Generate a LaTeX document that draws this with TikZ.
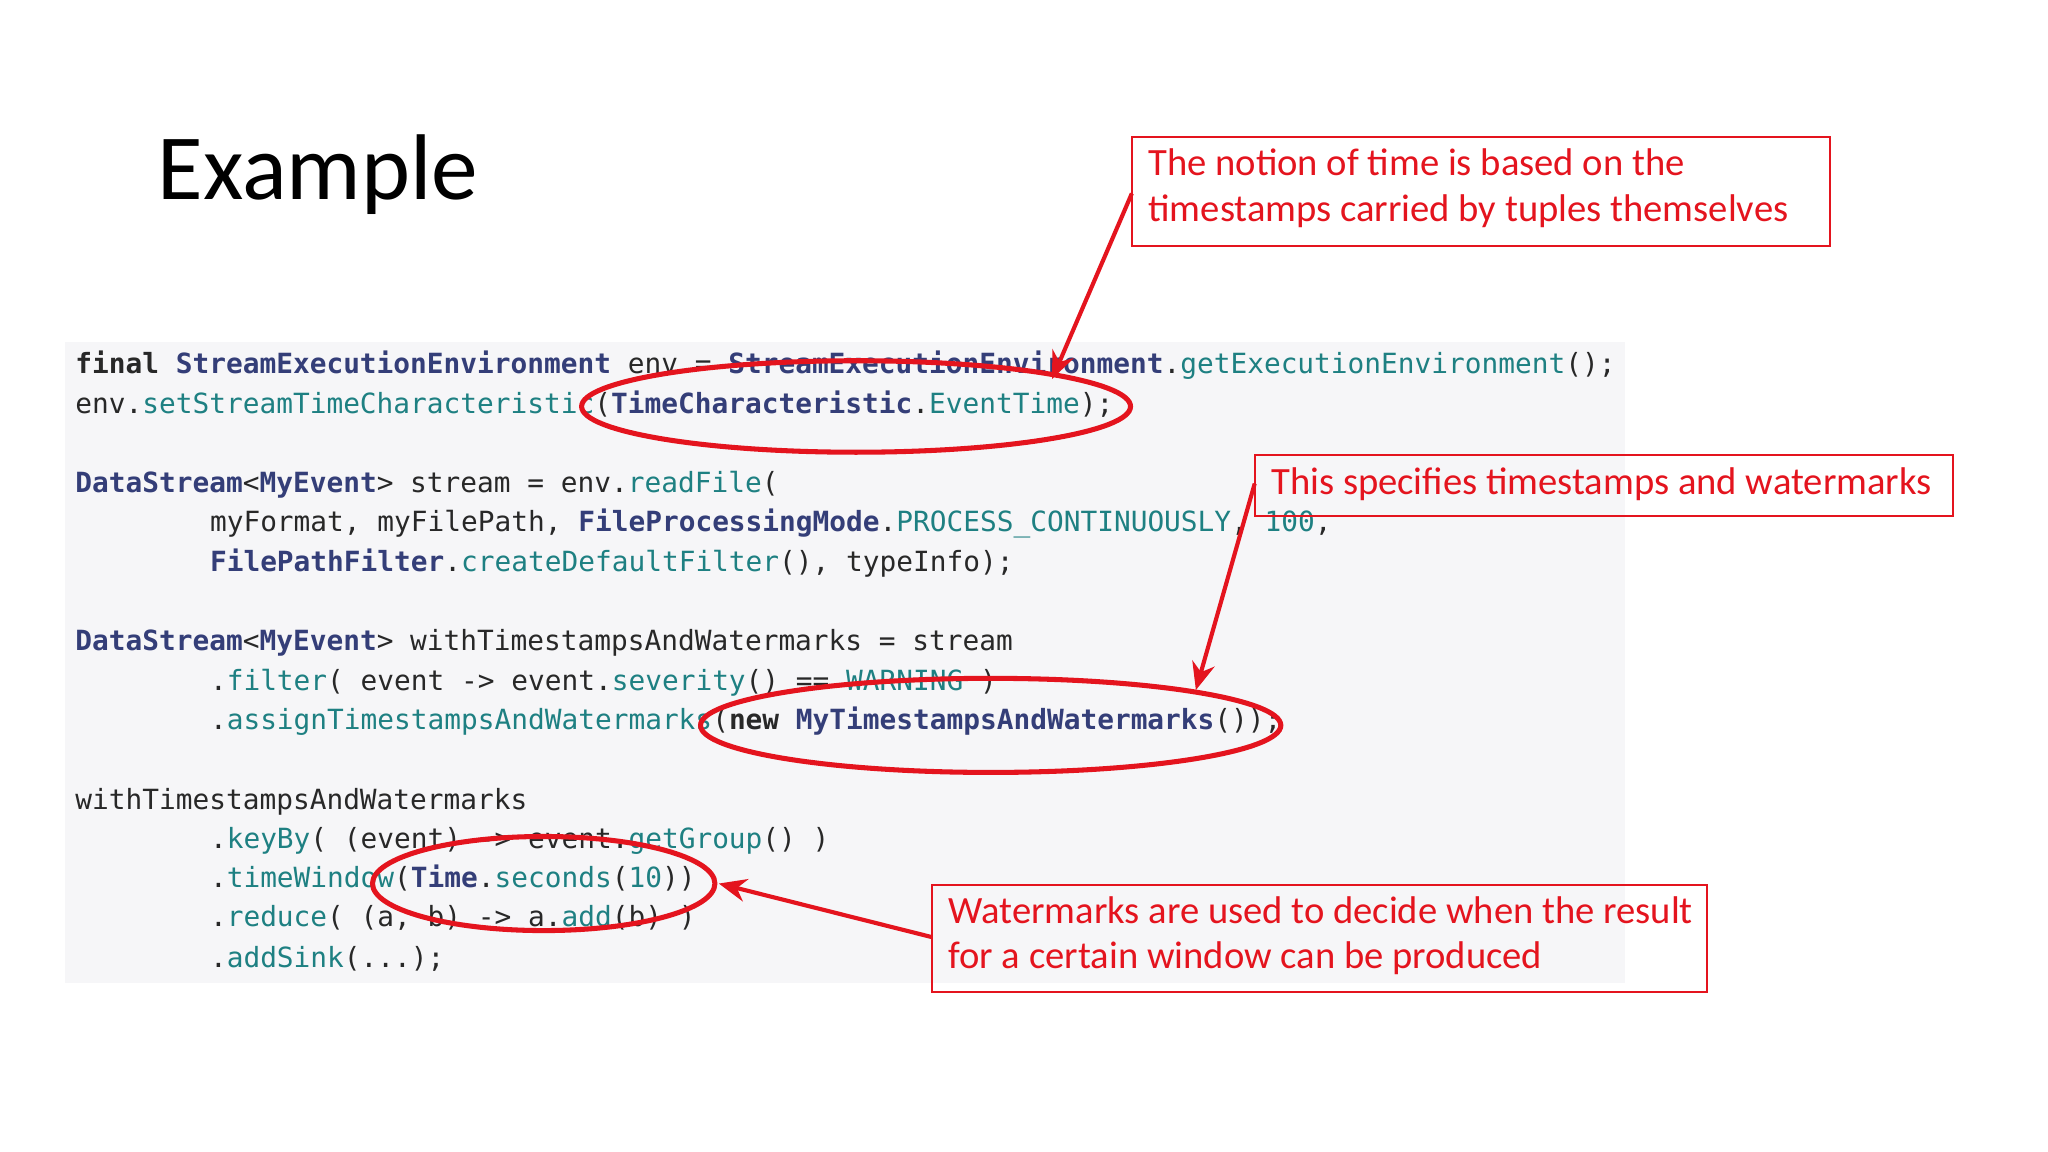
\documentclass[tikz,border=0pt]{standalone}
\usepackage{fontspec}
\setmainfont{Carlito}
\setmonofont{DejaVu Sans Mono}
\usetikzlibrary{arrows.meta}
\definecolor{kw}{RGB}{52,62,120}
\definecolor{mt}{RGB}{30,128,130}
\definecolor{pl}{RGB}{40,40,40}
\definecolor{rd}{RGB}{228,20,30}
\definecolor{bg}{RGB}{246,246,248}
\newcommand{\K}[1]{\textcolor{kw}{\textbf{#1}}}
\newcommand{\M}[1]{\textcolor{mt}{#1}}
\begin{document}
\begin{tikzpicture}[x=0.01cm,y=-0.01cm,
  code/.style={anchor=base west,inner sep=0pt,font=\ttfamily\fontsize{6.05}{7}\selectfont,text=pl},
  note/.style={draw=rd,line width=0.4pt},
  notetext/.style={anchor=north west,inner sep=0pt,align=left,text=rd,font=\fontsize{8.4}{10}\selectfont},
  oval/.style={draw=rd,line width=1.1pt},
  arr/.style={draw=rd,line width=0.9pt,-{Stealth[length=6pt,width=5pt]}}]
\useasboundingbox (0,0) rectangle (1567,881);
\fill[white] (0,0) rectangle (1567,881);
\node[anchor=base west,inner sep=0pt,font=\fontsize{20.3}{24}\selectfont] (title) at (120,153) {Example};
\fill[bg] (50,262) rectangle (1243,752);
\node[code] (l1) at (57,286) {\textbf{final} \K{StreamExecutionEnvironment} env = \K{StreamExecutionEnvironment}.\M{getExecutionEnvironment}();};
\node[code] (l2) at (57,316) {env.\M{setStreamTimeCharacteristic}(\K{TimeCharacteristic}.\M{EventTime});};
\node[code] (l3) at (57,377) {\K{DataStream}<\K{MyEvent}> stream = env.\M{readFile}(};
\node[code] (l4) at (160,407) {myFormat, myFilePath, \K{FileProcessingMode}.\M{PROCESS\_CONTINUOUSLY}, \M{100},};
\node[code] (l5) at (160,437) {\K{FilePathFilter}.\M{createDefaultFilter}(), typeInfo);};
\node[code] (l6) at (57,498) {\K{DataStream}<\K{MyEvent}> withTimestampsAndWatermarks = stream};
\node[code] (l7) at (160,528) {.\M{filter}( event -> event.\M{severity}() == \M{WARNING} )};
\node[code] (l8) at (160,558) {.\M{assignTimestampsAndWatermarks}(\textbf{new} \K{MyTimestampsAndWatermarks}());};
\node[code] (l9) at (57,619) {withTimestampsAndWatermarks};
\node[code] (l10) at (160,649) {.\M{keyBy}( (event) -> event.\M{getGroup}() )};
\node[code] (l11) at (160,679) {.\M{timeWindow}(\K{Time}.\M{seconds}(\M{10}))};
\node[code] (l12) at (160,709) {.\M{reduce}( (a, b) -> a.\M{add}(b) )};
\node[code] (l13) at (160,740) {.\M{addSink}(...);};
% ovals
\draw[oval] (655,311) ellipse [x radius=210,y radius=35];
\draw[oval] (758,555) ellipse [x radius=222,y radius=36];
\draw[oval] (416,676) ellipse [x radius=131,y radius=36];
% notes
\draw[note] (866,105) rectangle (1400,188);
\node[notetext] (na) at (878,113) {The notion of time is based on the\\timestamps carried by tuples themselves};
\draw[note] (960,348) rectangle (1494,395);
\node[notetext] (nb) at (972,357) {This specifies timestamps and watermarks};
\draw[note] (713,677) rectangle (1306,759);
\node[notetext] (nc) at (725,685) {Watermarks are used to decide when the result\\for a certain window can be produced};
\coordinate (sa) at (866,148); \coordinate (ea) at (805,290);
\coordinate (sb) at (960,370); \coordinate (eb) at (915,528);
\coordinate (sc) at (713,717); \coordinate (ec) at (550,676);
\draw[arr] (sa) -- (ea);
\draw[arr] (sb) -- (eb);
\draw[arr] (sc) -- (ec);
\end{tikzpicture}
\end{document}
